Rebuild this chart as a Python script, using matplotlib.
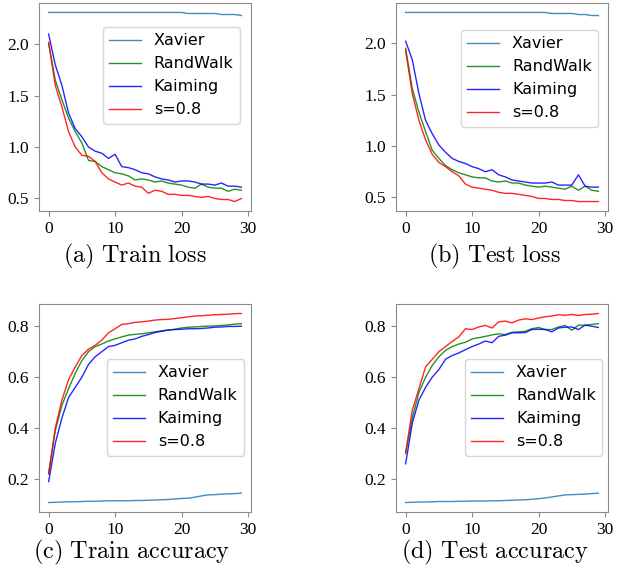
import numpy as np
import matplotlib
matplotlib.use('Agg')
import matplotlib.pyplot as plt

plt.rcParams['mathtext.fontset'] = 'cm'

epochs = np.arange(30)
labels = ['Xavier', 'RandWalk', 'Kaiming', 's=0.8']
colors = ['tab:blue', 'g', 'b', 'r']

# (a) train loss
train_loss_xavier = [2.31, 2.31, 2.31, 2.31, 2.31, 2.31, 2.31, 2.31, 2.31, 2.31,
                     2.31, 2.31, 2.31, 2.31, 2.31, 2.31, 2.31, 2.31, 2.31, 2.31,
                     2.31, 2.30, 2.30, 2.30, 2.30, 2.30, 2.29, 2.29, 2.29, 2.28]
train_loss_randwalk = [2.01, 1.65, 1.46, 1.28, 1.15, 1.04, 0.87, 0.86, 0.81, 0.78,
                       0.75, 0.74, 0.72, 0.68, 0.69, 0.68, 0.66, 0.67, 0.65, 0.64,
                       0.63, 0.61, 0.60, 0.64, 0.61, 0.60, 0.60, 0.57, 0.59, 0.58]
train_loss_kaiming = [2.10, 1.80, 1.60, 1.33, 1.18, 1.10, 1.00, 0.96, 0.94, 0.89,
                      0.93, 0.81, 0.80, 0.78, 0.75, 0.74, 0.71, 0.69, 0.68, 0.66,
                      0.67, 0.67, 0.66, 0.64, 0.64, 0.63, 0.65, 0.62, 0.62, 0.61]
train_loss_s08 = [2.02, 1.60, 1.39, 1.15, 1.00, 0.92, 0.91, 0.86, 0.75, 0.69,
                  0.66, 0.63, 0.65, 0.62, 0.61, 0.55, 0.58, 0.57, 0.54, 0.54,
                  0.53, 0.53, 0.52, 0.51, 0.52, 0.50, 0.49, 0.49, 0.47, 0.50]

# (b) test loss
test_loss_xavier = [2.30, 2.30, 2.30, 2.30, 2.30, 2.30, 2.30, 2.30, 2.30, 2.30,
                    2.30, 2.30, 2.30, 2.30, 2.30, 2.30, 2.30, 2.30, 2.30, 2.30,
                    2.30, 2.30, 2.29, 2.29, 2.29, 2.29, 2.28, 2.28, 2.27, 2.27]
test_loss_randwalk = [1.95, 1.56, 1.33, 1.14, 0.96, 0.88, 0.81, 0.77, 0.74, 0.72,
                      0.70, 0.69, 0.69, 0.66, 0.65, 0.66, 0.64, 0.64, 0.62, 0.61,
                      0.60, 0.61, 0.60, 0.59, 0.58, 0.61, 0.57, 0.61, 0.57, 0.56]
test_loss_kaiming = [2.02, 1.84, 1.51, 1.25, 1.12, 1.01, 0.94, 0.88, 0.85, 0.83,
                     0.80, 0.78, 0.75, 0.77, 0.72, 0.70, 0.67, 0.66, 0.65, 0.64,
                     0.64, 0.64, 0.65, 0.62, 0.62, 0.62, 0.72, 0.61, 0.60, 0.60]
test_loss_s08 = [1.93, 1.51, 1.25, 1.06, 0.92, 0.84, 0.80, 0.75, 0.71, 0.63,
                 0.60, 0.59, 0.58, 0.57, 0.55, 0.54, 0.54, 0.53, 0.52, 0.51,
                 0.49, 0.49, 0.48, 0.48, 0.47, 0.47, 0.46, 0.46, 0.46, 0.46]

# (c) train accuracy
train_acc_xavier = [0.108, 0.109, 0.110, 0.111, 0.111, 0.112, 0.113, 0.113, 0.114, 0.115,
                    0.115, 0.115, 0.115, 0.116, 0.116, 0.117, 0.118, 0.119, 0.120, 0.122,
                    0.124, 0.125, 0.129, 0.134, 0.138, 0.139, 0.141, 0.142, 0.143, 0.145]
train_acc_randwalk = [0.22, 0.39, 0.49, 0.555, 0.615, 0.665, 0.70, 0.72, 0.73, 0.742,
                      0.75, 0.758, 0.765, 0.768, 0.77, 0.774, 0.778, 0.782, 0.785, 0.788,
                      0.793, 0.796, 0.797, 0.799, 0.80, 0.801, 0.803, 0.805, 0.808, 0.81]
train_acc_kaiming = [0.19, 0.34, 0.44, 0.52, 0.56, 0.60, 0.65, 0.68, 0.70, 0.72,
                     0.725, 0.735, 0.745, 0.75, 0.76, 0.767, 0.775, 0.78, 0.785, 0.787,
                     0.788, 0.79, 0.79, 0.791, 0.793, 0.796, 0.797, 0.799, 0.799, 0.80]
train_acc_s08 = [0.222, 0.40, 0.51, 0.59, 0.64, 0.685, 0.71, 0.725, 0.745, 0.774,
                 0.79, 0.807, 0.81, 0.815, 0.817, 0.82, 0.824, 0.826, 0.827, 0.83,
                 0.833, 0.837, 0.84, 0.841, 0.843, 0.845, 0.846, 0.847, 0.849, 0.85]

# (d) test accuracy
test_acc_xavier = [0.108, 0.109, 0.110, 0.110, 0.111, 0.112, 0.112, 0.112, 0.113, 0.113,
                   0.114, 0.114, 0.114, 0.115, 0.115, 0.116, 0.117, 0.118, 0.119, 0.121,
                   0.123, 0.126, 0.130, 0.134, 0.138, 0.139, 0.140, 0.141, 0.143, 0.145]
test_acc_randwalk = [0.30, 0.44, 0.54, 0.60, 0.646, 0.68, 0.705, 0.72, 0.73, 0.737,
                     0.75, 0.755, 0.76, 0.766, 0.77, 0.767, 0.776, 0.778, 0.78, 0.79,
                     0.795, 0.787, 0.787, 0.797, 0.803, 0.784, 0.804, 0.804, 0.807, 0.81]
test_acc_kaiming = [0.26, 0.42, 0.51, 0.56, 0.60, 0.63, 0.67, 0.685, 0.695, 0.708,
                    0.72, 0.73, 0.742, 0.735, 0.76, 0.765, 0.774, 0.774, 0.775, 0.787,
                    0.788, 0.787, 0.778, 0.793, 0.796, 0.797, 0.787, 0.804, 0.80, 0.795]
test_acc_s08 = [0.305, 0.47, 0.555, 0.64, 0.67, 0.70, 0.72, 0.74, 0.758, 0.79,
                0.787, 0.797, 0.803, 0.793, 0.817, 0.82, 0.813, 0.824, 0.829, 0.826,
                0.832, 0.837, 0.84, 0.845, 0.843, 0.846, 0.842, 0.846, 0.847, 0.85]

panels = [
    ([train_loss_xavier, train_loss_randwalk, train_loss_kaiming, train_loss_s08],
     r'$\mathrm{(a)\ Train\ loss}$'),
    ([test_loss_xavier, test_loss_randwalk, test_loss_kaiming, test_loss_s08],
     r'$\mathrm{(b)\ Test\ loss}$'),
    ([train_acc_xavier, train_acc_randwalk, train_acc_kaiming, train_acc_s08],
     r'$\mathrm{(c)\ Train\ accuracy}$'),
    ([test_acc_xavier, test_acc_randwalk, test_acc_kaiming, test_acc_s08],
     r'$\mathrm{(d)\ Test\ accuracy}$'),
]

W, H = 621, 569
fig = plt.figure(figsize=(W / 100, H / 100), dpi=100)

# axes boxes in pixels: (left, top, right, bottom)
boxes = [(39, 3, 251, 211), (396, 3, 608, 211),
         (39, 304, 251, 512), (396, 304, 608, 512)]
legend_anchor = [(0.948, 0.885), (0.953, 0.870), (0.967, 0.736), (0.972, 0.736)]
caption_pos = [(135, 256), (495, 256), (132, 552), (495, 552)]

for k, ((series, caption), box) in enumerate(zip(panels, boxes)):
    l, t, r, b = box
    ax = fig.add_axes([l / W, 1 - b / H, (r - l) / W, (b - t) / H])
    for vals, lab, c in zip(series, labels, colors):
        ax.plot(epochs, vals, color=c, linewidth=1.0, alpha=0.85, label=lab)
    ax.set_xticks([0, 10, 20, 30])
    if k < 2:
        ax.set_yticks([0.5, 1.0, 1.5, 2.0])
    else:
        ax.set_yticks([0.2, 0.4, 0.6, 0.8])
    for sp in ax.spines.values():
        sp.set_color('0.55')
    ax.tick_params(colors='0.55', labelcolor='black', length=3.5)
    for lbl in ax.get_xticklabels() + ax.get_yticklabels():
        lbl.set_fontfamily('Liberation Serif')
        lbl.set_fontsize(12.5)
    ax.legend(loc='upper right', bbox_to_anchor=legend_anchor[k],
              borderaxespad=0, fontsize=11.5)
    cx, cy = caption_pos[k]
    fig.text(cx / W, 1 - cy / H, caption, ha='center', va='center', fontsize=17.5)

fig.savefig('out.png', dpi=100)
